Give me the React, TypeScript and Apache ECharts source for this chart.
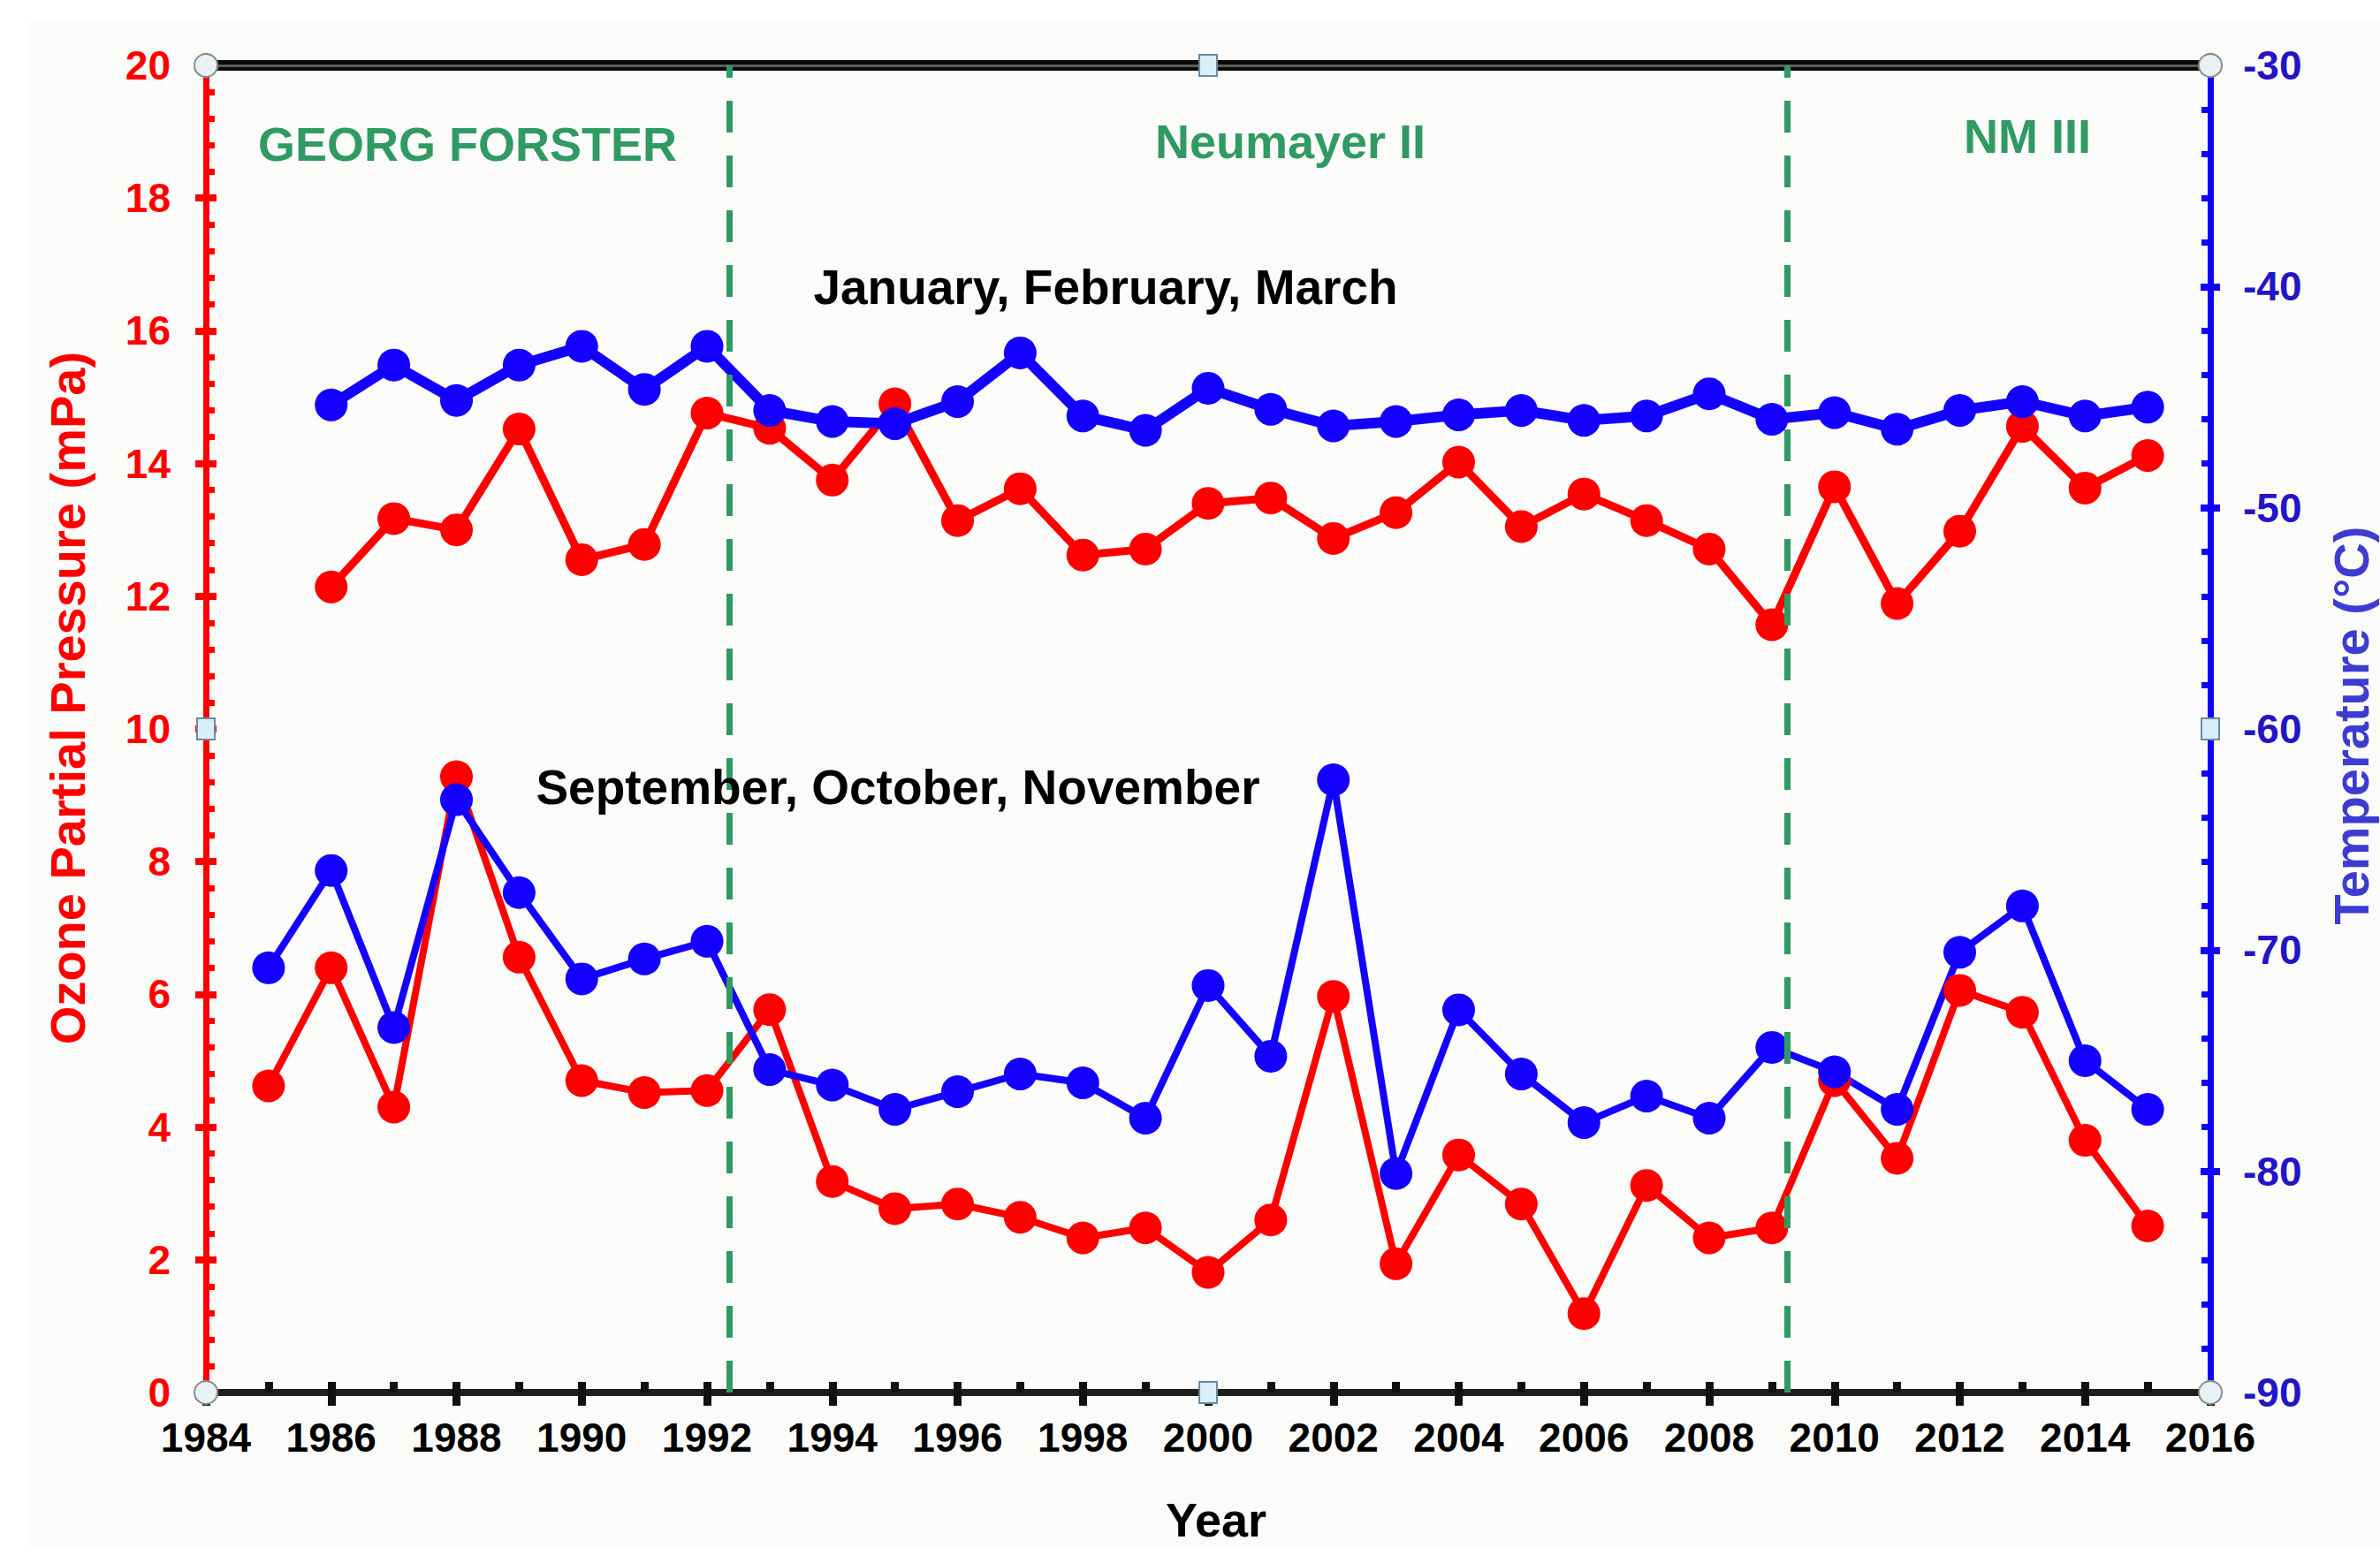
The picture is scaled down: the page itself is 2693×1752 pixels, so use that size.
import React, { useEffect, useRef } from 'react';
import * as echarts from 'echarts';

// ---------- DATA ----------
const jfmYears = [1986, 1987, 1988, 1989, 1990, 1991, 1992, 1993, 1994, 1995, 1996, 1997, 1998, 1999, 2000, 2001, 2002, 2003, 2004, 2005, 2006, 2007, 2008, 2009, 2010, 2011, 2012, 2013, 2014, 2015];
const jfmOzone = [12.14, 13.17, 13.0, 14.52, 12.55, 12.78, 14.76, 14.53, 13.75, 14.9, 13.14, 13.62, 12.62, 12.71, 13.4, 13.48, 12.87, 13.26, 14.02, 13.05, 13.54, 13.14, 12.71, 11.57, 13.65, 11.89, 12.98, 14.56, 13.63, 14.12];
const jfmTemp = [-45.35, -43.55, -45.15, -43.55, -42.7, -44.65, -42.7, -45.6, -46.1, -46.2, -45.2, -43.0, -45.85, -46.5, -44.6, -45.55, -46.3, -46.1, -45.8, -45.6, -46.05, -45.85, -44.85, -46.0, -45.7, -46.45, -45.6, -45.2, -45.85, -45.45];

const sonYears = [1985, 1986, 1987, 1988, 1989, 1990, 1991, 1992, 1993, 1994, 1995, 1996, 1997, 1998, 1999, 2000, 2001, 2002, 2003, 2004, 2005, 2006, 2007, 2008, 2009, 2010, 2011, 2012, 2013, 2014, 2015];
const sonOzone = [4.62, 6.4, 4.3, 9.28, 6.56, 4.7, 4.52, 4.55, 5.77, 3.18, 2.77, 2.84, 2.64, 2.33, 2.48, 1.81, 2.6, 5.97, 1.94, 3.58, 2.84, 1.19, 3.12, 2.33, 2.48, 4.7, 3.53, 6.06, 5.73, 3.8, 2.51];
const sonTemp = [-70.8, -66.4, -73.5, -63.2, -67.4, -71.3, -70.4, -69.6, -75.4, -76.1, -77.2, -76.4, -75.6, -76.0, -77.6, -71.6, -74.8, -62.3, -80.1, -72.7, -75.6, -77.8, -76.6, -77.6, -74.4, -75.5, -77.2, -70.1, -68.0, -75.0, -77.2];

const stationChanges = [1992.35, 2009.25];
const stationNames = ['GEORG FORSTER', 'Neumayer II', 'NM III'];
const seasonNames = ['January, February, March', 'September, October, November'];

// ---------- STYLE ----------
const W = 2693;
const H = 1752;
const GL = 233;
const GT = 74;
const GR = 2501;
const GB = 1576;
const FONT = "'Liberation Sans', Arial, Helvetica, sans-serif";
const RED = '#ff0000';
const BLUE = '#1400ff';
const GREEN = '#2f9a62';
const RIGHT_LABEL = '#2414c8';

const pairs = (xs: number[], ys: number[]) => xs.map((x, i) => [x, ys[i]]);

function bigText(text: string, x: number, y: number, fill: string, size: number, rotation = 0) {
  return {
    type: 'text',
    x,
    y,
    rotation,
    z: 50,
    style: {
      text,
      fill,
      fontSize: size,
      fontWeight: 'bold',
      fontFamily: FONT,
      textAlign: 'center',
      textVerticalAlign: 'middle',
      align: 'center',
      verticalAlign: 'middle',
    },
  };
}

function handleCircle(x: number, y: number) {
  return { type: 'circle', z: 60, shape: { cx: x, cy: y, r: 13 }, style: { fill: '#e6f2f6', stroke: '#8a8a8a', lineWidth: 2 } };
}
function handleSquare(x: number, y: number) {
  return { type: 'rect', z: 60, shape: { x: x - 10, y: y - 12, width: 20, height: 24 }, style: { fill: '#d8eef8', stroke: '#6d8aa0', lineWidth: 2 } };
}

const xBase = { type: 'value', min: 1984, max: 2016, interval: 2, splitLine: { show: false } };

const option: any = {
  animation: false,
  backgroundColor: '#ffffff',
  textStyle: { fontFamily: FONT },
  grid: { left: GL, right: W - GR, top: GT, bottom: H - GB, containLabel: false, outerBoundsMode: 'none' },
  xAxis: [
    {
      ...xBase,
      position: 'bottom',
      axisLine: { onZero: false, lineStyle: { color: '#1e1e1e', width: 8 } },
      axisTick: { inside: true, length: 12, lineStyle: { color: '#111', width: 9 } },
      minorTick: { show: true, splitNumber: 2, length: 12, lineStyle: { color: '#111', width: 9 } },
      axisLabel: { color: '#000', fontSize: 46, fontWeight: 'bold', margin: 28, fontFamily: FONT, formatter: (v: number) => String(v) },
    },
    {
      ...xBase,
      position: 'bottom',
      axisLine: { show: false },
      axisTick: { inside: false, length: 15, lineStyle: { color: '#111', width: 9 } },
      axisLabel: { show: false },
    },
    {
      ...xBase,
      position: 'top',
      axisLine: { onZero: false, lineStyle: { color: '#0a0a0a', width: 12 } },
      axisTick: { show: false },
      axisLabel: { show: false },
    },
    {
      ...xBase,
      position: 'top',
      axisLine: { onZero: false, lineStyle: { color: '#5a5a5a', width: 3 } },
      axisTick: { show: false },
      axisLabel: { show: false },
    },
  ],
  yAxis: [
    {
      type: 'value', position: 'left', min: 0, max: 20, interval: 2,
      splitLine: { show: false },
      axisLine: { onZero: false, lineStyle: { color: RED, width: 7 } },
      axisTick: { inside: false, length: 12, lineStyle: { color: RED, width: 8 } },
      axisLabel: { color: RED, fontSize: 46, fontWeight: 'bold', margin: 40, fontFamily: FONT },
    },
    {
      type: 'value', position: 'right', min: -90, max: -30, interval: 10,
      splitLine: { show: false },
      axisLine: { onZero: false, lineStyle: { color: BLUE, width: 7 } },
      axisTick: { inside: false, length: 11, lineStyle: { color: BLUE, width: 8 } },
      axisLabel: { color: RIGHT_LABEL, fontSize: 46, fontWeight: 'bold', margin: 37, fontFamily: FONT },
    },
    {
      type: 'value', position: 'left', min: 0, max: 20, interval: 2,
      splitLine: { show: false },
      axisLine: { show: false },
      axisTick: { inside: true, length: 12, lineStyle: { color: RED, width: 8 } },
      minorTick: { show: true, splitNumber: 5, length: 10, lineStyle: { color: RED, width: 7 } },
      axisLabel: { show: false },
    },
    {
      type: 'value', position: 'right', min: -90, max: -30, interval: 10,
      splitLine: { show: false },
      axisLine: { show: false },
      axisTick: { inside: true, length: 11, lineStyle: { color: BLUE, width: 8 } },
      minorTick: { show: true, splitNumber: 5, length: 10, lineStyle: { color: BLUE, width: 7 } },
      axisLabel: { show: false },
    },
  ],
  series: [
    {
      name: 'Ozone JFM', type: 'line', xAxisIndex: 0, yAxisIndex: 0,
      data: pairs(jfmYears, jfmOzone),
      symbol: 'circle', symbolSize: 37,
      lineStyle: { color: RED, width: 9 }, itemStyle: { color: RED },
    },
    {
      name: 'Ozone SON', type: 'line', xAxisIndex: 0, yAxisIndex: 0,
      data: pairs(sonYears, sonOzone),
      symbol: 'circle', symbolSize: 37,
      lineStyle: { color: RED, width: 8 }, itemStyle: { color: RED },
    },
    {
      name: 'Temperature JFM', type: 'line', xAxisIndex: 0, yAxisIndex: 1,
      data: pairs(jfmYears, jfmTemp),
      symbol: 'circle', symbolSize: 37,
      lineStyle: { color: BLUE, width: 12 }, itemStyle: { color: BLUE },
    },
    {
      name: 'Temperature SON', type: 'line', xAxisIndex: 0, yAxisIndex: 1,
      data: pairs(sonYears, sonTemp),
      symbol: 'circle', symbolSize: 37,
      lineStyle: { color: BLUE, width: 8 }, itemStyle: { color: BLUE },
      markLine: {
        silent: true,
        symbol: ['none', 'none'],
        label: { show: false },
        lineStyle: { color: GREEN, width: 7, type: [36, 26] },
        data: stationChanges.map((v) => ({ xAxis: v })),
        z: 20,
      },
    },
  ],
  graphic: [
    { type: 'rect', z: -100, silent: true, shape: { x: 32, y: 25, width: W - 32, height: H - 25 }, style: { fill: '#fbfcf9' } },
    bigText(stationNames[0], 529, 163, GREEN, 54),
    bigText(stationNames[1], 1460, 160, GREEN, 54),
    bigText(stationNames[2], 2294, 154, GREEN, 54),
    bigText(seasonNames[0], 1251, 325, '#000', 55),
    bigText(seasonNames[1], 1016, 891, '#000', 55),
    bigText('Year', 1376, 1720, '#000', 54),
    bigText('Ozone Partial Pressure (mPa)', 76, 790, RED, 56, Math.PI / 2),
    bigText('Temperature (°C)', 2660, 821, '#3c3cd2', 56, Math.PI / 2),
    handleCircle(GL, GT),
    handleCircle(GR, GT),
    handleCircle(GL, GB),
    handleCircle(GR, GB),
    handleSquare((GL + GR) / 2, GT),
    handleSquare((GL + GR) / 2, GB),
    handleSquare(GL, (GT + GB) / 2),
    handleSquare(GR, (GT + GB) / 2),
  ],
};

export default function App() {
  const ref = useRef<HTMLDivElement>(null);
  useEffect(() => {
    document.body.style.margin = '0';
    const chart = echarts.init(ref.current as HTMLDivElement, null, { renderer: 'svg' });
    chart.setOption(option);
    return () => chart.dispose();
  }, []);
  return <div ref={ref} style={{ position: 'fixed', left: 0, top: 0, width: W, height: H }} />;
}
